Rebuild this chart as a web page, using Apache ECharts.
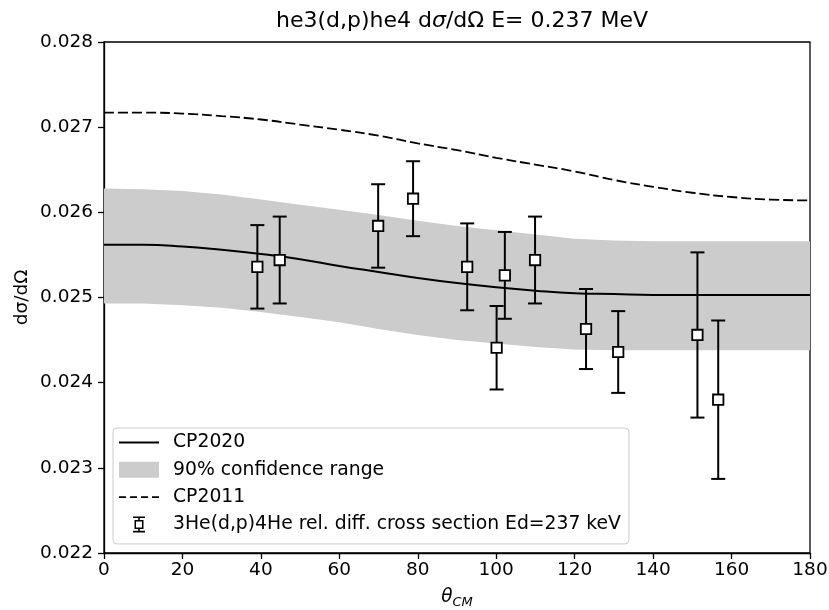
<!DOCTYPE html>
<html><head><meta charset="utf-8">
<script src="https://cdn.jsdelivr.net/npm/echarts@6/dist/echarts.min.js"></script>
<style>html,body{margin:0;padding:0;background:#fff}#c{width:829px;height:610px}</style>
</head><body><div id="c"></div>
<script>
// Theory curves sampled every 10 degrees
const curveTheta = [0,10,20,30,40,50,60,70,80,90,100,110,120,130,140,150,160,170,180];
const cp2020 = [0.02562,0.02562,0.02560,0.02556,0.02551,0.02545,0.02537,0.02530,0.02523,0.02517,0.02512,0.02508,0.02505,0.02504,0.02503,0.02503,0.02503,0.02503,0.02503];
const cp2011 = [0.02717,0.02717,0.02716,0.02713,0.02709,0.02703,0.02697,0.02690,0.02681,0.02673,0.02664,0.02656,0.02648,0.02638,0.02630,0.02623,0.02618,0.02615,0.02614];
const bandUpper = [0.02628,0.02627,0.02625,0.02621,0.02615,0.02609,0.02603,0.02597,0.02590,0.02584,0.02579,0.02574,0.02569,0.02567,0.02566,0.02566,0.02566,0.02566,0.02566];
const bandLower = [0.02493,0.02493,0.02491,0.02488,0.02483,0.02477,0.02471,0.02463,0.02456,0.02450,0.02446,0.02442,0.02439,0.02438,0.02438,0.02438,0.02438,0.02438,0.02438];
// Experimental data
const expTheta = [39.1,44.8,69.9,78.8,92.6,100.1,102.2,109.9,122.9,131.1,151.3,156.6];
const expValue = [0.02536,0.02544,0.02584,0.02616,0.02536,0.02441,0.02526,0.02544,0.02463,0.02436,0.02456,0.02380];
const expError = [0.00049,0.00051,0.00049,0.00044,0.00051,0.00049,0.00051,0.00051,0.00047,0.00048,0.00097,0.00093];
const names = ['CP2020','90% confidence range','CP2011','3He(d,p)4He rel. diff. cross section Ed=237 keV'];

const FONT = 'DejaVu Sans';
const FS = 18.5;
const chart = echarts.init(document.getElementById('c'), null, {renderer:'canvas'});
const errIcon = 'path://M0,0 L12,0 L12,1.6 L0,1.6 Z M0,14.4 L12,14.4 L12,16 L0,16 Z M5.2,1.6 L6.8,1.6 L6.8,3.5 L5.2,3.5 Z M5.2,12.5 L6.8,12.5 L6.8,14.4 L5.2,14.4 Z M1.5,3.5 L10.5,3.5 L10.5,12.5 L1.5,12.5 Z M3,5 L3,11 L9,11 L9,5 Z';
const solidIcon = 'path://M0,0 L40,0 L40,2 L0,2 Z';
const dashIcon = 'path://M0,0 L7,0 L7,1.7 L0,1.7 Z M11,0 L18,0 L18,1.7 L11,1.7 Z M22,0 L29,0 L29,1.7 L22,1.7 Z M33,0 L40,0 L40,1.7 L33,1.7 Z';

const option = {
  animation:false,
  backgroundColor:'#fff',
  title:{
    text:'{a|he3(d,p)he4 d}{b|σ}{a|/dΩ E= 0.237 MeV}',
    left:457, top:5, textAlign:'center',
    textStyle:{fontWeight:'normal', rich:{
      a:{fontFamily:FONT, fontSize:22, color:'#000', fontWeight:'normal'},
      b:{fontFamily:FONT, fontSize:22, color:'#000', fontStyle:'italic', fontWeight:'normal'}
    }}
  },
  grid:{left:104,right:19,top:42,bottom:57,outerBoundsMode:'none',containLabel:false,show:true,borderColor:'#000',borderWidth:1.3,backgroundColor:'transparent'},
  legend:{
    left:113, top:428, orient:'vertical', itemWidth:40, itemHeight:16, itemGap:8.3,
    padding:[5,8,10,6], backgroundColor:'rgba(255,255,255,0.8)', borderColor:'#cccccc', borderWidth:1, borderRadius:4,
    textStyle:{fontSize:18.8, color:'#000', fontFamily:FONT, padding:[0,0,0,9]},
    data:[
      {name:names[0], icon:solidIcon, itemStyle:{color:'#000'}},
      {name:names[1], icon:'rect', itemStyle:{color:'#cccccc'}},
      {name:names[2], icon:dashIcon, itemStyle:{color:'#000'}},
      {name:names[3], icon:errIcon, itemStyle:{color:'#000'}}
    ]
  },
  xAxis:{
    type:'value', min:0, max:180, interval:20,
    name:'{i|θ}{s|CM}', nameLocation:'middle', nameGap:32, nameMoveOverlap:false,
    nameTextStyle:{rich:{
      i:{fontFamily:FONT, fontSize:FS, fontStyle:'italic', color:'#000', lineHeight:24, verticalAlign:'middle'},
      s:{fontFamily:FONT, fontSize:13, fontStyle:'italic', color:'#000', lineHeight:24, verticalAlign:'bottom', padding:[8,0,0,0]}
    }},
    axisLine:{lineStyle:{color:'#000',width:1.3}},
    axisTick:{length:6,lineStyle:{color:'#000',width:1.3}},
    axisLabel:{color:'#000',fontSize:FS,fontFamily:FONT,margin:8},
    splitLine:{show:false}
  },
  yAxis:{
    type:'value', min:0.022, max:0.028, interval:0.001,
    name:'dσ/dΩ', nameLocation:'middle', nameGap:72, nameMoveOverlap:false,
    nameTextStyle:{fontFamily:FONT, fontSize:FS, color:'#000'},
    axisLine:{lineStyle:{color:'#000',width:1.3}},
    axisTick:{length:6,lineStyle:{color:'#000',width:1.3}},
    axisLabel:{color:'#000',fontSize:FS,fontFamily:FONT,margin:11,formatter:v=>v.toFixed(3)},
    splitLine:{show:false}
  },
  series:[
    {
      name:names[1], type:'custom', silent:true, z:1,
      itemStyle:{color:'#cccccc'},
      data:[[0,0.025]], encode:{x:0,y:1},
      renderItem:function(params, api){
        const pts = [];
        for (let i=0;i<curveTheta.length;i++) pts.push(api.coord([curveTheta[i], bandUpper[i]]));
        for (let i=curveTheta.length-1;i>=0;i--) pts.push(api.coord([curveTheta[i], bandLower[i]]));
        return {type:'polygon', shape:{points:pts}, style:{fill:'#cccccc'}};
      }
    },
    {
      name:names[0], type:'line', z:2, symbol:'none', smooth:0.5,
      data:curveTheta.map((t,i)=>[t,cp2020[i]]),
      itemStyle:{color:'#000'},
      lineStyle:{color:'#000',width:2}
    },
    {
      name:names[2], type:'line', z:2, symbol:'none', smooth:0.5,
      data:curveTheta.map((t,i)=>[t,cp2011[i]]),
      itemStyle:{color:'#000'},
      lineStyle:{color:'#000',width:1.8,type:[10,4]}
    },
    {
      name:names[3], type:'custom', z:3, silent:true,
      itemStyle:{color:'#000'},
      data:expTheta.map((t,i)=>[t,expValue[i],expError[i]]),
      encode:{x:0,y:1},
      renderItem:function(params, api){
        const x = api.value(0), y = api.value(1), e = api.value(2);
        const pt = api.coord([x, y+e]), pb = api.coord([x, y-e]), pm = api.coord([x, y]);
        const cap = 7, h = 5.2;
        const ls = {stroke:'#000', lineWidth:2, fill:null};
        return {type:'group', children:[
          {type:'line', shape:{x1:pt[0],y1:pt[1],x2:pb[0],y2:pb[1]}, style:ls},
          {type:'line', shape:{x1:pt[0]-cap,y1:pt[1],x2:pt[0]+cap,y2:pt[1]}, style:ls},
          {type:'line', shape:{x1:pb[0]-cap,y1:pb[1],x2:pb[0]+cap,y2:pb[1]}, style:ls},
          {type:'rect', shape:{x:pm[0]-h,y:pm[1]-h,width:2*h,height:2*h}, style:{fill:'#fff',stroke:'#000',lineWidth:1.8}}
        ]};
      }
    }
  ]
};
chart.setOption(option);
</script>
</body></html>
